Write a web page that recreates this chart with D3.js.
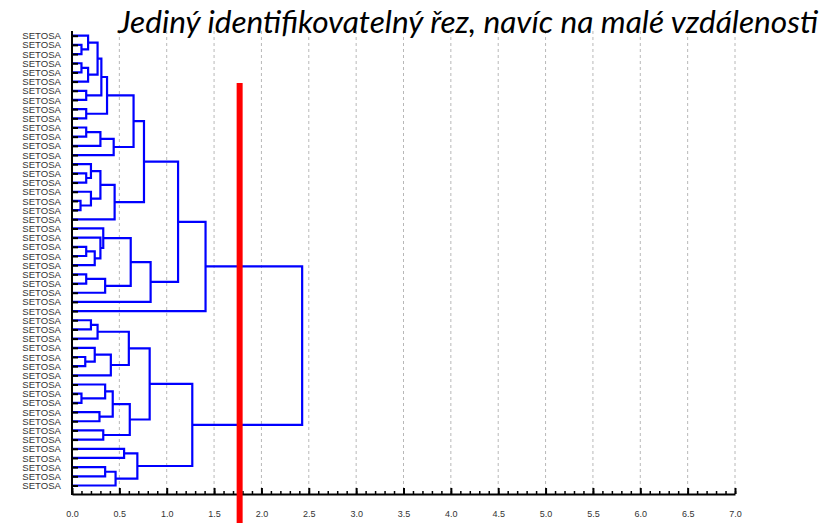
<!DOCTYPE html>
<html lang="cs">
<head>
  <meta charset="UTF-8">
  <script src="https://d3js.org/d3.v7.min.js"></script>
  <style>
    body { margin: 0; background: white; }
    .tick text { fill: #333; font-family: "Liberation Sans", Arial, sans-serif; }
  </style>
</head>
<body>
  <div id="chart"></div>
  <script>
    // leaf labels, top to bottom
    const leafNames = d3.range(50).map(() => "SETOSA");

    // merges in linkage style: [left id, right id, distance]; new ids start at 50
    const merges = [
      [1, 2, 0.10], [0, 50, 0.17], [3, 4, 0.10], [52, 5, 0.17], [51, 53, 0.27],
      [6, 7, 0.15], [54, 55, 0.31], [8, 9, 0.15], [56, 57, 0.37],
      [10, 11, 0.15], [59, 12, 0.30], [60, 13, 0.44], [58, 61, 0.65],
      [15, 16, 0.15], [14, 63, 0.20], [18, 19, 0.09], [17, 65, 0.20],
      [64, 66, 0.30], [67, 20, 0.45], [62, 68, 0.76],
      [23, 24, 0.15], [70, 25, 0.24], [22, 71, 0.30], [21, 72, 0.33],
      [26, 27, 0.15], [74, 28, 0.35], [73, 75, 0.62], [76, 29, 0.83],
      [69, 77, 1.12], [78, 30, 1.41],
      [31, 32, 0.20], [80, 33, 0.27], [35, 36, 0.14], [34, 82, 0.24],
      [83, 37, 0.41], [81, 84, 0.60],
      [39, 40, 0.10], [38, 86, 0.35], [41, 42, 0.29], [87, 88, 0.43],
      [43, 44, 0.33], [89, 90, 0.61], [85, 91, 0.82],
      [45, 46, 0.55], [47, 48, 0.35], [94, 49, 0.46], [93, 95, 0.69],
      [92, 96, 1.27], [79, 97, 2.43]
    ];

    const xTicks = d3.range(0, 7.01, 0.5);
    const cutHeight = 1.77;
    const title = "Jediný identifikovatelný řez, navíc na malé vzdálenosti";

    const width = 831, height = 523;
    const svg = d3.select("#chart").append("svg")
      .attr("width", width).attr("height", height);

    const x = d3.scaleLinear().domain([0, 7]).range([72, 735]);
    const y = d3.scalePoint().domain(d3.range(leafNames.length)).range([35.7, 485.5]);
    const axisY = 494, topY = 31;

    // grid
    svg.append("g").selectAll("line")
      .data(xTicks.filter(d => d > 0))
      .enter().append("line")
      .attr("x1", d => x(d)).attr("x2", d => x(d))
      .attr("y1", topY).attr("y2", axisY)
      .attr("stroke", "#b8b8b8")
      .attr("stroke-width", 1)
      .attr("stroke-dasharray", "3,3");

    // node positions
    const nodes = leafNames.map((n, i) => ({ h: 0, y: y(i) }));
    merges.forEach(m => {
      const a = nodes[m[0]], b = nodes[m[1]];
      nodes.push({ h: m[2], y: (a.y + b.y) / 2, a: a, b: b });
    });

    svg.append("g").selectAll("path")
      .data(nodes.filter(n => n.a))
      .enter().append("path")
      .attr("d", n => `M${x(n.a.h)},${n.a.y}H${x(n.h)}V${n.b.y}H${x(n.b.h)}`)
      .attr("fill", "none")
      .attr("stroke", "#0000ff")
      .attr("stroke-width", 2.2);

    // y axis with leaf labels
    const yAxis = svg.append("g")
      .attr("transform", `translate(${x(0)},0)`)
      .call(d3.axisLeft(y).tickSizeInner(-6).tickSizeOuter(0).tickPadding(11)
        .tickFormat(i => leafNames[i]));
    yAxis.select(".domain").remove();
    yAxis.selectAll(".tick line").attr("stroke", "#000").attr("stroke-width", 2);
    yAxis.selectAll(".tick text").style("font-size", "9.6px");
    svg.append("line")
      .attr("x1", x(0)).attr("x2", x(0))
      .attr("y1", topY).attr("y2", axisY + 1)
      .attr("stroke", "#000").attr("stroke-width", 2);

    // x axis: minor then major ticks
    const minor = svg.append("g")
      .attr("transform", `translate(0,${axisY})`)
      .call(d3.axisBottom(x).tickValues(d3.range(0, 70.5, 1).map(d => d / 10))
        .tickSizeInner(-3).tickSizeOuter(0).tickFormat(""));
    minor.select(".domain").remove();
    minor.selectAll(".tick line").attr("stroke", "#000").attr("stroke-width", 1.5);

    const xAxis = svg.append("g")
      .attr("transform", `translate(0,${axisY})`)
      .call(d3.axisBottom(x).tickValues(xTicks).tickSizeInner(-6).tickSizeOuter(0)
        .tickPadding(17).tickFormat(d3.format(".1f")));
    xAxis.select(".domain").attr("stroke", "#000").attr("stroke-width", 2);
    xAxis.selectAll(".tick line").attr("stroke", "#000").attr("stroke-width", 2);
    xAxis.selectAll(".tick text").style("font-size", "9px");

    // cut line
    svg.append("line")
      .attr("x1", x(cutHeight)).attr("x2", x(cutHeight))
      .attr("y1", 83).attr("y2", height)
      .attr("stroke", "#ff0000")
      .attr("stroke-width", 6);

    // title
    const t = svg.append("text")
      .attr("x", 818).attr("y", 33)
      .attr("text-anchor", "end")
      .style("font-family", "Lato, 'Open Sans', sans-serif")
      .style("font-style", "italic")
      .style("font-size", "27px")
      .style("fill", "#000")
      .text(title);
    const w = t.node().getComputedTextLength();
    t.style("font-size", (27 * 700 / w).toFixed(2) + "px");
  </script>
</body>
</html>
